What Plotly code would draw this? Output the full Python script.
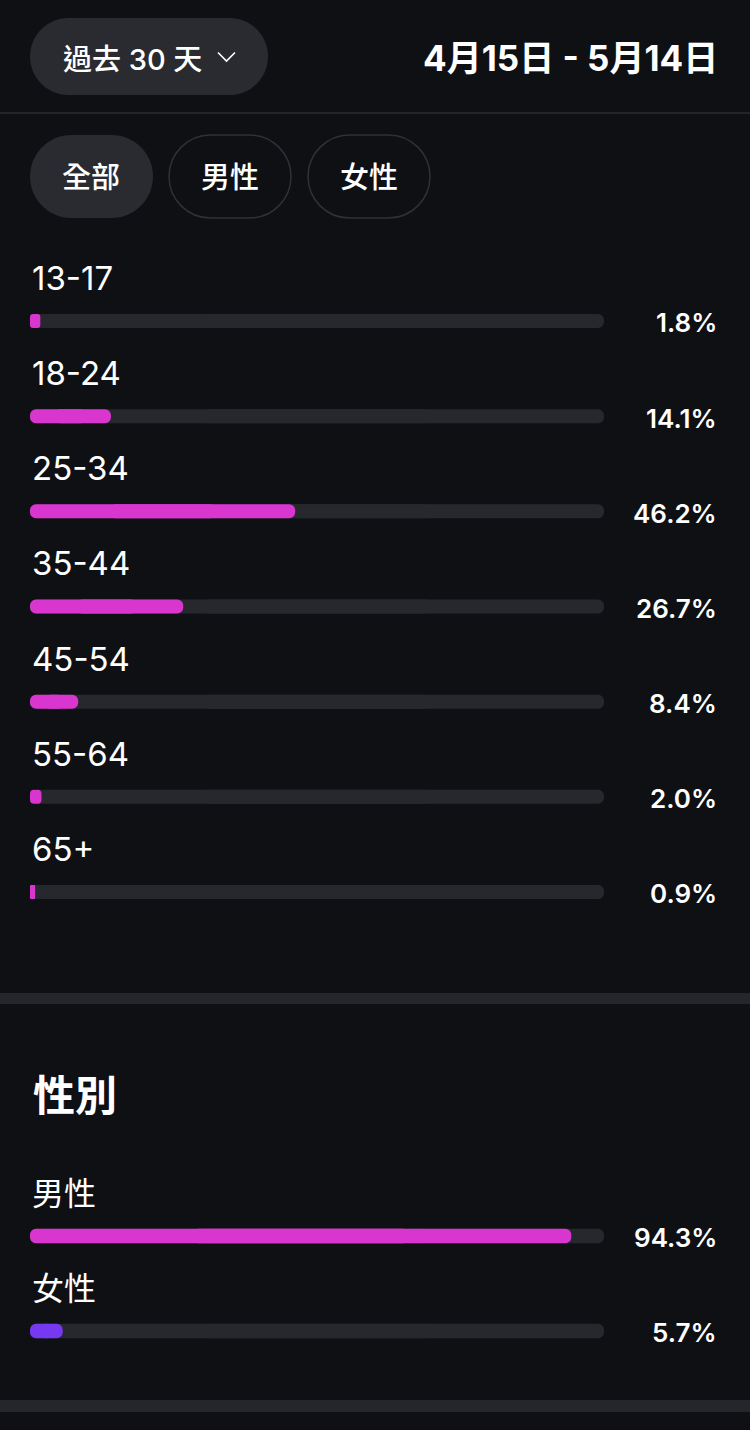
import plotly.graph_objects as go

# ---------------- data ----------------
age_groups = ["13-17", "18-24", "25-34", "35-44", "45-54", "55-64", "65+"]
age_pct = [1.8, 14.1, 46.2, 26.7, 8.4, 2.0, 0.9]

gender_labels = ["男性", "女性"]
gender_pct = [94.3, 5.7]

period_label = "過去 30 天"
date_range = "4月15日 - 5月14日"
filter_tabs = ["全部", "男性", "女性"]
section_title = "性別"

# ---------------- style ----------------
W, H = 750, 1430
BG = "#0e1014"
TRACK = "#27282d"
PINK = "#d936d0"
PURPLE = "#7638f0"
PILL = "#2a2b30"
BAND = "#25262b"
FONT = "Inter, 'Noto Sans CJK TC', sans-serif"
CJK = "Inter, 'Noto Sans CJK TC', sans-serif"

def px(x):
    return x / W

def py(y):
    return 1 - y / H

def domain_for(first_center, last_center, n):
    step = (last_center - first_center) / (n - 1) if n > 1 else 95
    top = first_center - step / 2
    bot = last_center + step / 2
    return [py(bot), py(top)], step

fig = go.Figure()

age_dom, age_step = domain_for(321, 892, len(age_groups))
gen_dom, gen_step = domain_for(1236, 1331, len(gender_labels))
bar_w_age = 14 / age_step
bar_w_gen = 14.5 / gen_step


def rounded_bar(cats, vals, color, width, xa, ya, hover=True):
    """Each bar drawn as two overlapping pieces: one grows leftwards to 0 (rounded left end),
    one grows rightwards to the value (rounded right end)."""
    fig.add_trace(go.Bar(
        y=cats, x=[-0.7 * v for v in vals], base=[0.7 * v for v in vals], orientation="h",
        marker=dict(color=color, line=dict(width=0)), width=width,
        xaxis=xa, yaxis=ya, showlegend=False, hoverinfo="skip"))
    fig.add_trace(go.Bar(
        y=cats, x=[0.7 * v for v in vals], base=[0.3 * v for v in vals], orientation="h",
        marker=dict(color=color, line=dict(width=0)), width=width,
        xaxis=xa, yaxis=ya, showlegend=False,
        hoverinfo="skip" if not hover else None,
        customdata=vals, hovertemplate="%{y}: %{customdata}%<extra></extra>"))


rounded_bar(age_groups, [100] * len(age_groups), TRACK, bar_w_age, "x", "y", hover=False)
rounded_bar(age_groups, age_pct, PINK, bar_w_age, "x", "y")
rounded_bar(gender_labels, [100] * len(gender_labels), TRACK, bar_w_gen, "x2", "y2", hover=False)
rounded_bar(gender_labels, gender_pct, [PINK, PURPLE], bar_w_gen, "x2", "y2")

ax_common = dict(visible=False, fixedrange=True)
fig.update_layout(
    width=W, height=H, autosize=False,
    margin=dict(l=0, r=0, t=0, b=0, pad=0),
    paper_bgcolor=BG, plot_bgcolor="rgba(0,0,0,0)",
    barmode="overlay", barcornerradius=6,
    font=dict(family=FONT, color="white"),
    xaxis=dict(domain=[px(30), px(604)], range=[0, 100], anchor="y", **ax_common),
    yaxis=dict(domain=age_dom, range=[len(age_groups) - 0.5, -0.5], type="category",
               anchor="x", **ax_common),
    xaxis2=dict(domain=[px(30), px(604)], range=[0, 100], anchor="y2", **ax_common),
    yaxis2=dict(domain=gen_dom, range=[len(gender_labels) - 0.5, -0.5], type="category",
                anchor="x2", **ax_common),
)

ann = []
for cat, v in zip(age_groups, age_pct):
    ann.append(dict(xref="paper", yref="y", x=px(30), y=cat, yshift=43,
                    text=cat, showarrow=False, xanchor="left", yanchor="middle",
                    font=dict(size=33, color="white", family=FONT, weight=400)))
    ann.append(dict(xref="paper", yref="y", x=px(719), y=cat, yshift=-2,
                    text=f"{v:.1f}%", showarrow=False, xanchor="right", yanchor="middle",
                    font=dict(size=26, color="white", family=FONT, weight=600)))
for cat, v in zip(gender_labels, gender_pct):
    ann.append(dict(xref="paper", yref="y2", x=px(30), y=cat, yshift=43,
                    text=cat, showarrow=False, xanchor="left", yanchor="middle",
                    font=dict(size=32, color="white", family=CJK)))
    ann.append(dict(xref="paper", yref="y2", x=px(719), y=cat, yshift=-1,
                    text=f"{v:.1f}%", showarrow=False, xanchor="right", yanchor="middle",
                    font=dict(size=26, color="white", family=FONT, weight=600)))

ann.append(dict(xref="paper", yref="paper", x=px(61), y=py(59), text=period_label,
                showarrow=False, xanchor="left", yanchor="middle",
                font=dict(size=29, color="white", family=CJK, weight=500)))
ann.append(dict(xref="paper", yref="paper", x=px(720), y=py(58), text=date_range,
                showarrow=False, xanchor="right", yanchor="middle",
                font=dict(size=35, color="white", family=CJK, weight="bold")))
tab_centers = [91, 230, 369]
for t, cx in zip(filter_tabs, tab_centers):
    ann.append(dict(xref="paper", yref="paper", x=px(cx), y=py(177), text=t,
                    showarrow=False, xanchor="center", yanchor="middle",
                    font=dict(size=29, color="white", family=CJK, weight=500)))
ann.append(dict(xref="paper", yref="paper", x=px(31), y=py(1095), text=section_title,
                showarrow=False, xanchor="left", yanchor="middle",
                font=dict(size=42, color="white", family=CJK, weight="bold")))

fig.update_layout(annotations=ann)


def pill_path(x0, y0, x1, y1):
    r = (y1 - y0) / 2
    k = 0.5523 * r
    pts = [
        f"M {px(x0 + r)},{py(y0)}",
        f"L {px(x1 - r)},{py(y0)}",
        f"C {px(x1 - r + k)},{py(y0)} {px(x1)},{py(y0 + r - k)} {px(x1)},{py(y0 + r)}",
        f"C {px(x1)},{py(y0 + r + k)} {px(x1 - r + k)},{py(y1)} {px(x1 - r)},{py(y1)}",
        f"L {px(x0 + r)},{py(y1)}",
        f"C {px(x0 + r - k)},{py(y1)} {px(x0)},{py(y0 + r + k)} {px(x0)},{py(y0 + r)}",
        f"C {px(x0)},{py(y0 + r - k)} {px(x0 + r - k)},{py(y0)} {px(x0 + r)},{py(y0)}",
        "Z",
    ]
    return " ".join(pts)


shapes = []
shapes.append(dict(type="path", xref="paper", yref="paper", path=pill_path(30, 18, 268, 95),
                   fillcolor=PILL, line=dict(width=0), layer="below"))
shapes.append(dict(type="path", xref="paper", yref="paper",
                   path=f"M {px(218)},{py(52.5)} L {px(226.5)},{py(61)} L {px(235)},{py(52.5)}",
                   line=dict(color="white", width=1.6)))
shapes.append(dict(type="line", xref="paper", yref="paper", x0=0, x1=1, y0=py(113), y1=py(113),
                   line=dict(color="#2a2c31", width=1.5)))
shapes.append(dict(type="path", xref="paper", yref="paper", path=pill_path(30, 135, 153, 218),
                   fillcolor=PILL, line=dict(width=0), layer="below"))
for x0, x1 in [(169, 291), (308, 430)]:
    shapes.append(dict(type="path", xref="paper", yref="paper", path=pill_path(x0, 135, x1, 218),
                       fillcolor="rgba(0,0,0,0)", line=dict(color="#2f3136", width=1.5),
                       layer="below"))
for y0, y1 in [(993, 1004), (1400, 1412)]:
    shapes.append(dict(type="rect", xref="paper", yref="paper", x0=0, x1=1,
                       y0=py(y1), y1=py(y0), fillcolor=BAND, line=dict(width=0), layer="below"))

fig.update_layout(shapes=shapes)

fig.write_html("out.html", include_plotlyjs=True, config={"displayModeBar": False})
